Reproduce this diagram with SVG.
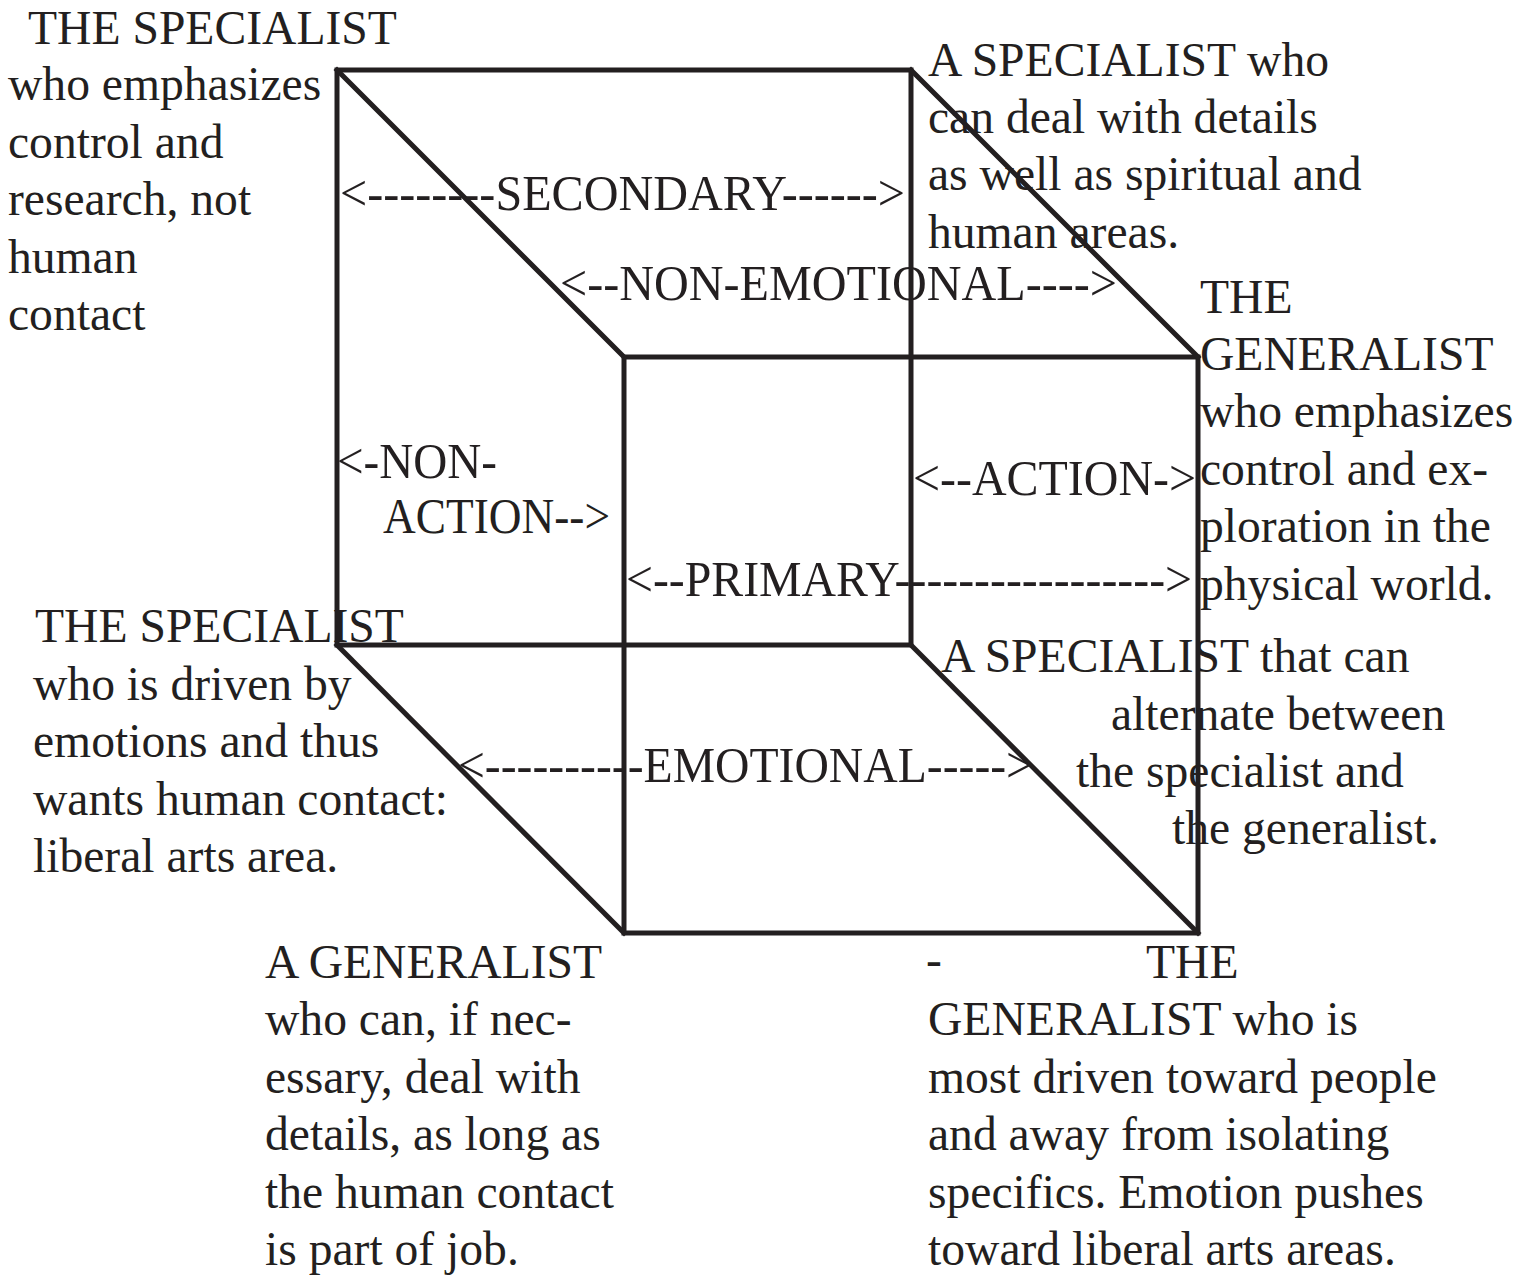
<svg xmlns="http://www.w3.org/2000/svg" width="1535" height="1275" viewBox="0 0 1535 1275">
<style>
  .t { font-family: "Liberation Serif", "Times New Roman", serif; font-size: 47.6px; fill: #231f20; }
  .lb { font-family: "Liberation Serif", "Times New Roman", serif; font-size: 50px; fill: #231f20; }
  .edge { stroke: #231f20; stroke-width: 5; fill: none; stroke-linecap: square; stroke-linejoin: miter; }
</style>
<rect width="1535" height="1275" fill="#ffffff"/>

<g id="connectors">
  <polygon class="edge" points="337,70 911,70 911,645 337,645"/>
  <polygon class="edge" points="624,357 1198,357 1198,933 624,933"/>
  <line class="edge" x1="337" y1="70" x2="624" y2="357"/>
  <line class="edge" x1="911" y1="70" x2="1198" y2="357"/>
  <line class="edge" x1="337" y1="645" x2="624" y2="933"/>
  <line class="edge" x1="911" y1="645" x2="1198" y2="933"/>
</g>

<g id="labels">
  <text class="lb" x="340" y="210" textLength="565" lengthAdjust="spacingAndGlyphs">&lt;--------SECONDARY------&gt;</text>
  <text class="lb" x="560" y="300" textLength="557" lengthAdjust="spacingAndGlyphs">&lt;--NON-EMOTIONAL----&gt;</text>
  <text class="lb" x="337" y="478" textLength="160" lengthAdjust="spacingAndGlyphs">&lt;-NON-</text>
  <text class="lb" x="383" y="533" textLength="227" lengthAdjust="spacingAndGlyphs">ACTION--&gt;</text>
  <text class="lb" x="913" y="495" textLength="283" lengthAdjust="spacingAndGlyphs">&lt;--ACTION-&gt;</text>
  <text class="lb" x="626" y="596" textLength="566" lengthAdjust="spacingAndGlyphs">&lt;--PRIMARY-----------------&gt;</text>
  <text class="lb" x="458" y="782" textLength="575" lengthAdjust="spacingAndGlyphs">&lt;----------EMOTIONAL-----&gt;</text>
</g>

<g id="specialist-control">
  <text class="t" x="28" y="44">THE SPECIALIST</text>
  <text class="t" x="8" y="100">who emphasizes</text>
  <text class="t" x="8" y="158">control and</text>
  <text class="t" x="8" y="215">research, not</text>
  <text class="t" x="8" y="273">human</text>
  <text class="t" x="8" y="330">contact</text>
</g>

<g id="specialist-details">
  <text class="t" x="928" y="76">A SPECIALIST who</text>
  <text class="t" x="928" y="133">can deal with details</text>
  <text class="t" x="928" y="190">as well as spiritual and</text>
  <text class="t" x="928" y="248">human areas.</text>
</g>

<g id="generalist-control">
  <text class="t" x="1200" y="313">THE</text>
  <text class="t" x="1200" y="370">GENERALIST</text>
  <text class="t" x="1200" y="427">who emphasizes</text>
  <text class="t" x="1200" y="485">control and ex-</text>
  <text class="t" x="1200" y="542">ploration in the</text>
  <text class="t" x="1200" y="600">physical world.</text>
</g>

<g id="specialist-emotions">
  <text class="t" x="35" y="642">THE SPECIALIST</text>
  <text class="t" x="33" y="700">who is driven by</text>
  <text class="t" x="33" y="757">emotions and thus</text>
  <text class="t" x="33" y="815">wants human contact:</text>
  <text class="t" x="33" y="872">liberal arts area.</text>
</g>

<g id="specialist-alternate">
  <text class="t" x="941" y="672">A SPECIALIST that can</text>
  <text class="t" x="1111" y="730">alternate between</text>
  <text class="t" x="1076" y="787">the specialist and</text>
  <text class="t" x="1172" y="844">the generalist.</text>
</g>

<g id="generalist-details">
  <text class="t" x="265" y="978">A GENERALIST</text>
  <text class="t" x="265" y="1035">who can, if nec-</text>
  <text class="t" x="265" y="1093">essary, deal with</text>
  <text class="t" x="265" y="1150">details, as long as</text>
  <text class="t" x="265" y="1208">the human contact</text>
  <text class="t" x="265" y="1265">is part of job.</text>
</g>

<g id="generalist-people">
  <text class="t" x="926" y="976">-</text>
  <text class="t" x="1146" y="978">THE</text>
  <text class="t" x="928" y="1035">GENERALIST who is</text>
  <text class="t" x="928" y="1093">most driven toward people</text>
  <text class="t" x="928" y="1150">and away from isolating</text>
  <text class="t" x="928" y="1208">specifics. Emotion pushes</text>
  <text class="t" x="928" y="1265">toward liberal arts areas.</text>
</g>
</svg>
